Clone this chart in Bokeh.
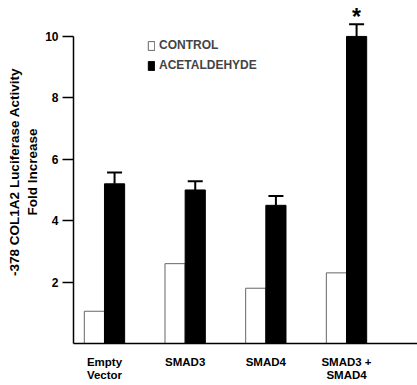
from bokeh.plotting import figure
from bokeh.models import (ColumnDataSource, Range1d, FixedTicker, Whisker, TeeHead,
                          Legend, LegendItem)
from bokeh.transform import dodge
from bokeh.core.properties import value
from bokeh.embed import file_html
from bokeh.resources import INLINE

groups = ["Empty\nVector", "SMAD3", "SMAD4", "SMAD3 +\nSMAD4"]
control = [1.05, 2.6, 1.8, 2.3]
acetaldehyde = [5.2, 5.0, 4.5, 10.0]
acet_err = [0.37, 0.28, 0.3, 0.4]
y_ticks = [2, 4, 6, 8, 10]
sig_marks = ["", "", "", "*"]

idx = list(range(len(groups)))
src = ColumnDataSource(dict(
    x=idx, control=control, acet=acetaldehyde,
    upper=[a + e for a, e in zip(acetaldehyde, acet_err)],
    star=sig_marks,
))

FONT = "Liberation Sans"

p = figure(width=417, height=385, output_backend="svg", toolbar_location=None,
           x_range=Range1d(-0.384, 3.88), y_range=Range1d(0, 11.17),
           min_border_left=73, min_border_top=0, min_border_right=0,
           min_border_bottom=42)
p.outline_line_color = None
p.xgrid.visible = False
p.ygrid.visible = False
p.background_fill_color = "white"
p.border_fill_color = "white"

bw = 0.25
r_ctrl = p.vbar(x=dodge("x", -bw / 2, range=p.x_range), top="control", width=bw,
                source=src, fill_color="white", line_color="#666666", line_width=1)
r_acet = p.vbar(x=dodge("x", bw / 2, range=p.x_range), top="acet", width=bw,
                source=src, fill_color="black", line_color="black", line_width=1)

wh = Whisker(source=src, base=dodge("x", bw / 2, range=p.x_range), lower="acet",
             upper="upper", line_color="black", line_width=2,
             upper_head=TeeHead(size=15, line_color="black", line_width=2),
             lower_head=None)
p.add_layout(wh)

p.text(x=dodge("x", bw / 2, range=p.x_range), y="upper", text="star", source=src,
       text_font=value(FONT), text_font_style="bold", text_font_size="23px",
       text_align="center", text_baseline="alphabetic", y_offset=-7, text_color="black")

# y axis
ya = p.yaxis[0]
ya.ticker = FixedTicker(ticks=y_ticks)
ya.bounds = (0, 10)
ya.axis_line_width = 1.5
ya.axis_line_color = "black"
ya.major_tick_out = 11
ya.major_tick_in = 0
ya.major_tick_line_width = 1.5
ya.minor_tick_line_color = None
ya.major_label_text_font = FONT
ya.major_label_text_font_style = "bold"
ya.major_label_text_font_size = "12px"
ya.major_label_text_color = "black"
ya.major_label_standoff = 4
ya.axis_label = "-378 COL1A2 Luciferase Activity\nFold Increase"
ya.axis_label_text_font = FONT
ya.axis_label_text_font_style = "bold"
ya.axis_label_text_font_size = "13.5px"
ya.axis_label_text_line_height = 1.2
ya.axis_label_text_color = "black"
ya.axis_label_standoff = 2

# x axis
xa = p.xaxis[0]
xa.ticker = FixedTicker(ticks=idx)
xa.major_label_overrides = {i: g for i, g in zip(idx, groups)}
xa.axis_line_width = 1.5
xa.axis_line_color = "black"
xa.major_tick_line_color = None
xa.minor_tick_line_color = None
xa.major_label_text_font = FONT
xa.major_label_text_font_style = "bold"
xa.major_label_text_font_size = "11.5px"
xa.major_label_text_line_height = 1.15
xa.major_label_text_color = "black"
xa.major_label_standoff = 6

legend = Legend(items=[LegendItem(label="CONTROL", renderers=[r_ctrl]),
                       LegendItem(label="ACETALDEHYDE", renderers=[r_acet])],
                location=(74, 271), border_line_color=None,
                background_fill_alpha=0, padding=0, margin=0, spacing=6,
                glyph_width=8, glyph_height=11, label_standoff=4,
                label_text_font=FONT, label_text_font_style="bold",
                label_text_font_size="12px", label_height=12)
p.add_layout(legend)

open("out.html", "w").write(file_html(p, INLINE))
